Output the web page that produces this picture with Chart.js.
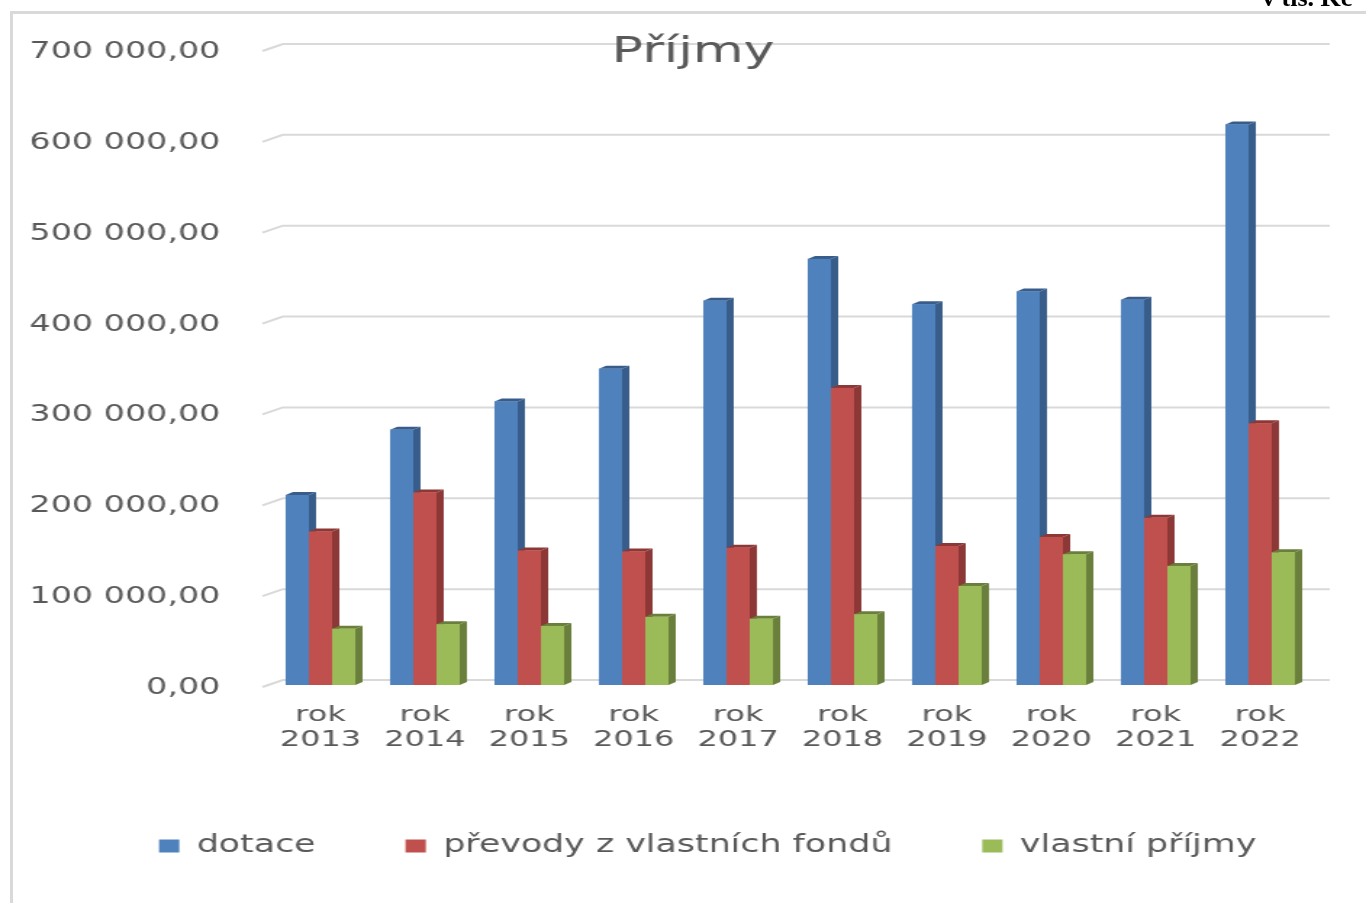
<!DOCTYPE html>
<html>
<head>
<meta charset="utf-8">
<script src="https://cdn.jsdelivr.net/npm/chart.js@4.4.1/dist/chart.umd.min.js"></script>
<style>
    body { margin: 0; background: #fff; overflow: hidden; }
    #wrap { position: absolute; left: 0; top: 0; width: 942px; height: 903px; transform: scaleX(1.4501); transform-origin: 0 0; }
    #frame { position: absolute; left: 10px; top: 11px; right: 0; bottom: 0; border-left: 3px solid #d9d9d9; border-top: 3px solid #d9d9d9; pointer-events: none; }
    #unit { position: absolute; left: 1262px; top: -15px; font: bold 26px 'Liberation Serif', serif; line-height: 26px; color: #000; white-space: nowrap; }
</style>
</head>
<body>
<div id="wrap"><canvas id="Graph"></canvas></div>
<div id="frame"></div>
<div id="unit">v tis. Kč</div>
<script>
// values in tis. Kč
const years = ['2013', '2014', '2015', '2016', '2017', '2018', '2019', '2020', '2021', '2022'];
const dotace = [209000, 281000, 312000, 348000, 423000, 469000, 419000, 433000, 424000, 617000];
const prevody = [169000, 212000, 148000, 147000, 151000, 327000, 153000, 163000, 184000, 288000];
const vlastni = [62000, 67000, 65000, 75000, 73000, 78000, 109000, 144000, 131000, 146000];
const yTicks = [0, 100000, 200000, 300000, 400000, 500000, 600000, 700000];

const fronts = ['#4f81bd', '#c0504d', '#9bbb59'];
const sides = ['#385d8a', '#8c3836', '#6b7f3c'];

function formatCz(v) {
    return String(Math.round(v)).replace(/\B(?=(\d{3})+(?!\d))/g, ' ') + ',00';
}

// gridlines on the back wall, with the little slant at the left corner
const backGrid = {
    id: 'backGrid',
    beforeDatasetsDraw(chart) {
        const ctx = chart.ctx;
        const area = chart.chartArea;
        const y = chart.scales.y;
        ctx.save();
        ctx.strokeStyle = '#d9d9d9';
        ctx.lineWidth = 2;
        yTicks.forEach((v) => {
            const py = y.getPixelForValue(v);
            ctx.beginPath();
            ctx.moveTo(area.left - 4, py + 2);
            ctx.lineTo(area.left + 10, py - 5);
            ctx.lineTo(area.right + 12, py - 5);
            ctx.stroke();
        });
        ctx.restore();
    }
};

// fake 3D: side + top face for each bar, drawn in dataset order
const bars3d = {
    id: 'bars3d',
    afterDatasetsDraw(chart) {
        const ctx = chart.ctx;
        const dx = 5, dy = 3;
        ctx.save();
        chart.data.datasets.forEach((ds, i) => {
            const meta = chart.getDatasetMeta(i);
            meta.data.forEach((bar) => {
                const l = bar.x - bar.width / 2;
                const r = bar.x + bar.width / 2;
                const t = bar.y;
                const b = bar.base;
                ctx.fillStyle = sides[i];
                ctx.beginPath();
                ctx.moveTo(r, t);
                ctx.lineTo(r + dx, t - dy);
                ctx.lineTo(r + dx, b - dy);
                ctx.lineTo(r, b);
                ctx.closePath();
                ctx.fill();
                ctx.beginPath();
                ctx.moveTo(l, t);
                ctx.lineTo(l + dx, t - dy);
                ctx.lineTo(r + dx, t - dy);
                ctx.lineTo(r, t);
                ctx.closePath();
                ctx.fill();
                ctx.fillStyle = fronts[i];
                ctx.fillRect(l, t, r - l, b - t);
            });
        });
        ctx.restore();
    }
};

const titlePlugin = {
    id: 'titlePlugin',
    afterDraw(chart) {
        const ctx = chart.ctx;
        ctx.save();
        ctx.font = '36px "DejaVu Sans"';
        ctx.fillStyle = '#595959';
        ctx.textAlign = 'center';
        ctx.textBaseline = 'alphabetic';
        ctx.fillText('Příjmy', 478, 62);
        ctx.restore();
    }
};

const ctx = document.getElementById('Graph').getContext('2d');
new Chart(ctx, {
    type: 'bar',
    data: {
        labels: years.map(y => ['rok', y]),
        datasets: [
            { label: 'dotace', data: dotace, backgroundColor: fronts[0] },
            { label: 'převody z vlastních fondů', data: prevody, backgroundColor: fronts[1] },
            { label: 'vlastní příjmy', data: vlastni, backgroundColor: fronts[2] }
        ]
    },
    plugins: [backGrid, bars3d, titlePlugin],
    options: {
        responsive: true,
        maintainAspectRatio: false,
        animation: false,
        devicePixelRatio: 1,
        layout: { padding: { left: 20, right: -14, top: 49, bottom: 35 } },
        datasets: { bar: { categoryPercentage: 0.667, barPercentage: 1.0 } },
        plugins: {
            tooltip: { enabled: false },
            title: { display: false },
            legend: {
                position: 'bottom',
                labels: {
                    boxWidth: 14,
                    boxHeight: 13,
                    padding: 62,
                    color: '#595959',
                    font: { family: 'DejaVu Sans', size: 24 }
                }
            }
        },
        scales: {
            x: {
                grid: { display: false },
                border: { display: false },
                ticks: {
                    color: '#595959',
                    font: { family: 'DejaVu Sans', size: 22, lineHeight: 1.14 },
                    padding: 10,
                    maxRotation: 0,
                    autoSkip: false
                },
                afterFit(scale) { scale.height = 87; }
            },
            y: {
                min: 0,
                max: 700000,
                afterBuildTicks(scale) { scale.ticks = yTicks.map(v => ({ value: v })); },
                grid: { display: false },
                border: { display: false },
                ticks: {
                    color: '#595959',
                    font: { family: 'DejaVu Sans', size: 23 },
                    padding: 25,
                    labelOffset: 3,
                    callback: (v) => formatCz(v)
                },
                afterFit(scale) { scale.width = 165; }
            },
            yRight: {
                position: 'right',
                grid: { display: false },
                border: { display: false },
                ticks: { display: false },
                afterFit(scale) { scale.width = 51; }
            }
        }
    }
});
</script>
</body>
</html>
